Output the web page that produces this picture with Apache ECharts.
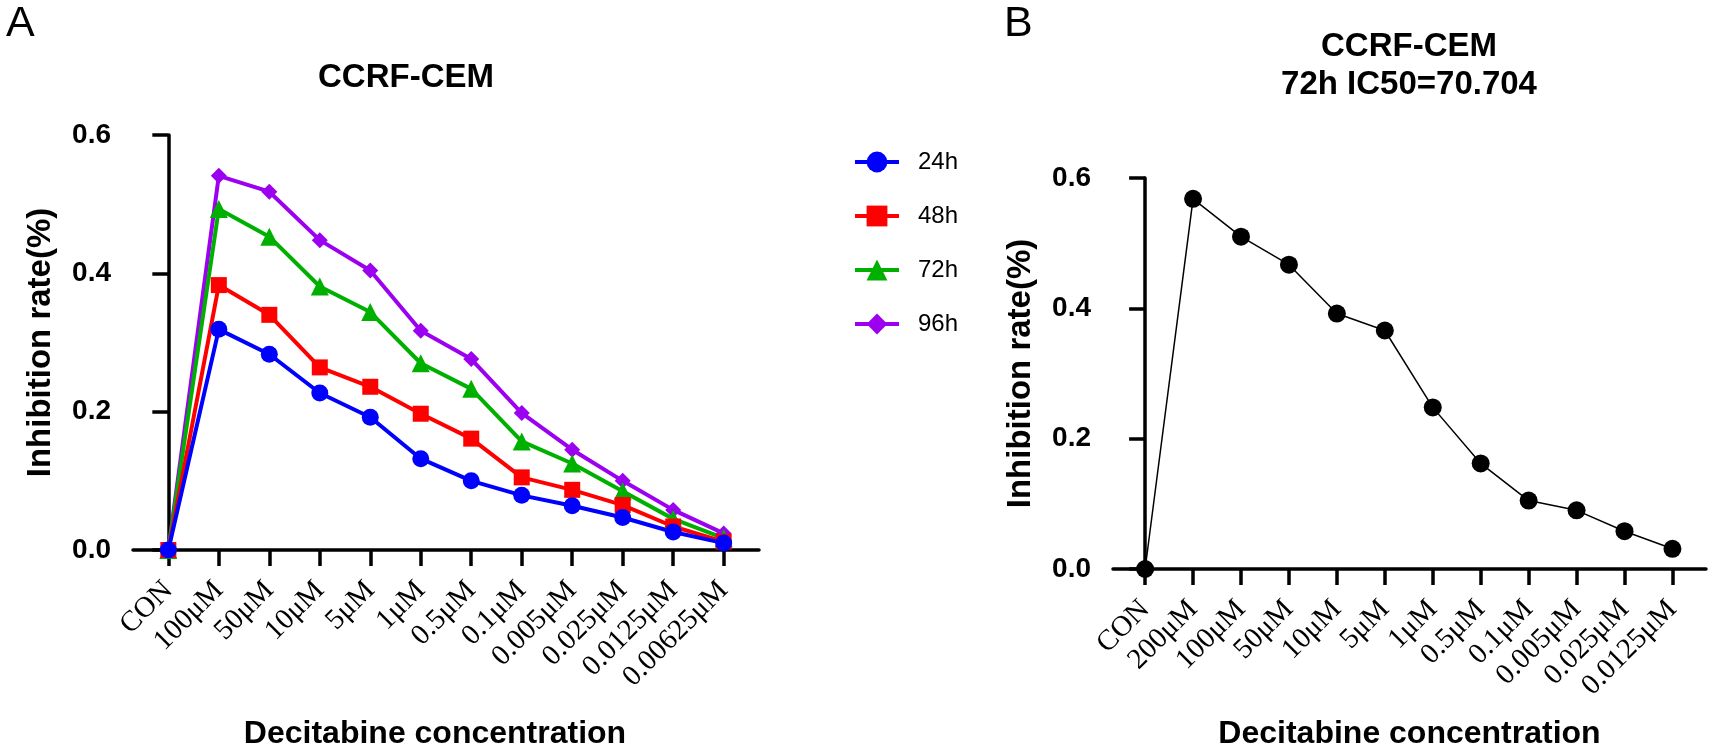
<!DOCTYPE html>
<html>
<head>
<meta charset="utf-8">
<script src="https://cdn.jsdelivr.net/npm/echarts@6/dist/echarts.min.js"></script>
<style>
html,body{margin:0;padding:0;background:#fff}
#main{width:1713px;height:755px}
</style>
</head>
<body>
<div id="main"></div>
<script>
// panel A categories / series
const catsA = ['CON','100μM','50μM','10μM','5μM','1μM','0.5μM','0.1μM','0.005μM','0.025μM','0.0125μM','0.00625μM'];
const rate24h = [0, 0.319, 0.283, 0.227, 0.192, 0.132, 0.100, 0.079, 0.064, 0.047, 0.026, 0.010];
const rate48h = [0, 0.383, 0.340, 0.264, 0.236, 0.197, 0.161, 0.105, 0.087, 0.065, 0.034, 0.012];
const rate72h = [0, 0.493, 0.453, 0.381, 0.344, 0.270, 0.233, 0.157, 0.125, 0.085, 0.045, 0.017];
const rate96h = [0, 0.541, 0.518, 0.448, 0.404, 0.317, 0.276, 0.198, 0.145, 0.100, 0.058, 0.024];
// panel B
const catsB = ['CON','200μM','100μM','50μM','10μM','5μM','1μM','0.5μM','0.1μM','0.005μM','0.025μM','0.0125μM'];
const rate72hB = [0, 0.568, 0.510, 0.467, 0.392, 0.366, 0.248, 0.162, 0.105, 0.090, 0.058, 0.031];

const idx = catsA.map((c, i) => i);

function pairs(vals){
    return vals.map((v, i) => [i, v]);
}

const axisCol = '#000';
const sans = 'Liberation Sans, Arial, sans-serif';
const serif = 'Liberation Serif, Times New Roman, serif';

function xAx(gridIndex, cats, nameShift, gap){
    return {
        gridIndex: gridIndex,
        type: 'value',
        min: -0.7,
        max: 11.7,
        name: 'Decitabine concentration',
        nameLocation: 'middle',
        nameGap: gap,
        nameTextStyle: {fontFamily: sans, fontWeight: 'bold', fontSize: 32, color: '#000', padding: [0, nameShift, 0, 0]},
        axisLine: {lineStyle: {color: axisCol, width: 3.5}},
        axisTick: {show: true, length: 16, lineStyle: {color: axisCol, width: 3.5}, customValues: idx},
        axisLabel: {
            customValues: idx,
            rotate: 45,
            margin: 36,
            fontFamily: serif,
            fontSize: 29,
            color: '#000',
            formatter: v => cats[Math.round(v)]
        },
        splitLine: {show: false}
    };
}

function yAx(gridIndex){
    return {
        gridIndex: gridIndex,
        type: 'value',
        min: 0,
        max: 0.6,
        interval: 0.2,
        name: 'Inhibition rate(%)',
        nameLocation: 'middle',
        nameGap: 76,
        nameTextStyle: {fontFamily: sans, fontWeight: 'bold', fontSize: 33, color: '#000'},
        axisLine: {show: true, lineStyle: {color: axisCol, width: 3.5}},
        axisTick: {show: true, length: 16, lineStyle: {color: axisCol, width: 3.5}},
        axisLabel: {margin: 22, fontFamily: sans, fontWeight: 'bold', fontSize: 28, color: '#000', formatter: v => v.toFixed(1)},
        splitLine: {show: false}
    };
}

function lineSeries(name, vals, color, symbol, size){
    return {
        name: name,
        type: 'line',
        xAxisIndex: 0,
        yAxisIndex: 0,
        data: pairs(vals),
        symbol: symbol,
        symbolSize: size,
        showAllSymbol: true,
        clip: false,
        lineStyle: {color: color, width: 4},
        itemStyle: {color: color, opacity: 1},
        emphasis: {disabled: true}
    };
}

const myChart = echarts.init(document.getElementById('main'));
const option = {
    animation: false,
    backgroundColor: '#fff',
    title: [
        {text: 'A', left: 6, top: 3, padding: 0, textStyle: {fontFamily: sans, fontWeight: 'normal', fontSize: 43, color: '#000'}},
        {text: 'B', left: 1004, top: 3, padding: 0, textStyle: {fontFamily: sans, fontWeight: 'normal', fontSize: 43, color: '#000'}},
        {text: 'CCRF-CEM', left: 406, top: 59, textAlign: 'center', padding: 0,
         textStyle: {fontFamily: sans, fontWeight: 'bold', fontSize: 33, lineHeight: 38, color: '#000'}},
        {text: 'CCRF-CEM\n72h IC50=70.704', left: 1409, top: 28, textAlign: 'center', padding: 0,
         textStyle: {fontFamily: sans, fontWeight: 'bold', fontSize: 33, lineHeight: 38, color: '#000'}}
    ],
    legend: {
        data: ['24h', '48h', '72h', '96h'],
        orient: 'vertical',
        left: 853,
        top: 150,
        padding: 0,
        itemWidth: 44,
        itemHeight: 26,
        itemGap: 30,
        lineStyle: {width: 4},
        textStyle: {fontFamily: sans, fontSize: 24, color: '#000', padding: [0, 0, 0, 14]},
        selectedMode: false
    },
    grid: [
        {left: 133, right: 954, top: 135, bottom: 203, containLabel: false},
        {left: 1113, right: 7, top: 178, bottom: 182, containLabel: false}
    ],
    xAxis: [xAx(0, catsA, 22, 168), Object.assign(xAx(1, catsB, 0, 149), {min: -0.67, max: 11.7})],
    yAxis: [yAx(0), yAx(1)],
    series: [
        lineSeries('96h', rate96h, '#9b00f0', 'diamond', 16),
        lineSeries('72h', rate72h, '#00b000', 'triangle', 18),
        lineSeries('48h', rate48h, '#ff0000', 'rect', 16),
        lineSeries('24h', rate24h, '#0000ff', 'circle', 17),
        {
            name: 'IC50',
            type: 'line',
            xAxisIndex: 1,
            yAxisIndex: 1,
            data: pairs(rate72hB),
            symbol: 'circle',
            symbolSize: 18,
            showAllSymbol: true,
            clip: false,
            lineStyle: {color: '#000', width: 1.5},
            itemStyle: {color: '#000'},
            emphasis: {disabled: true}
        }
    ]
};
myChart.setOption(option);
</script>
</body>
</html>
